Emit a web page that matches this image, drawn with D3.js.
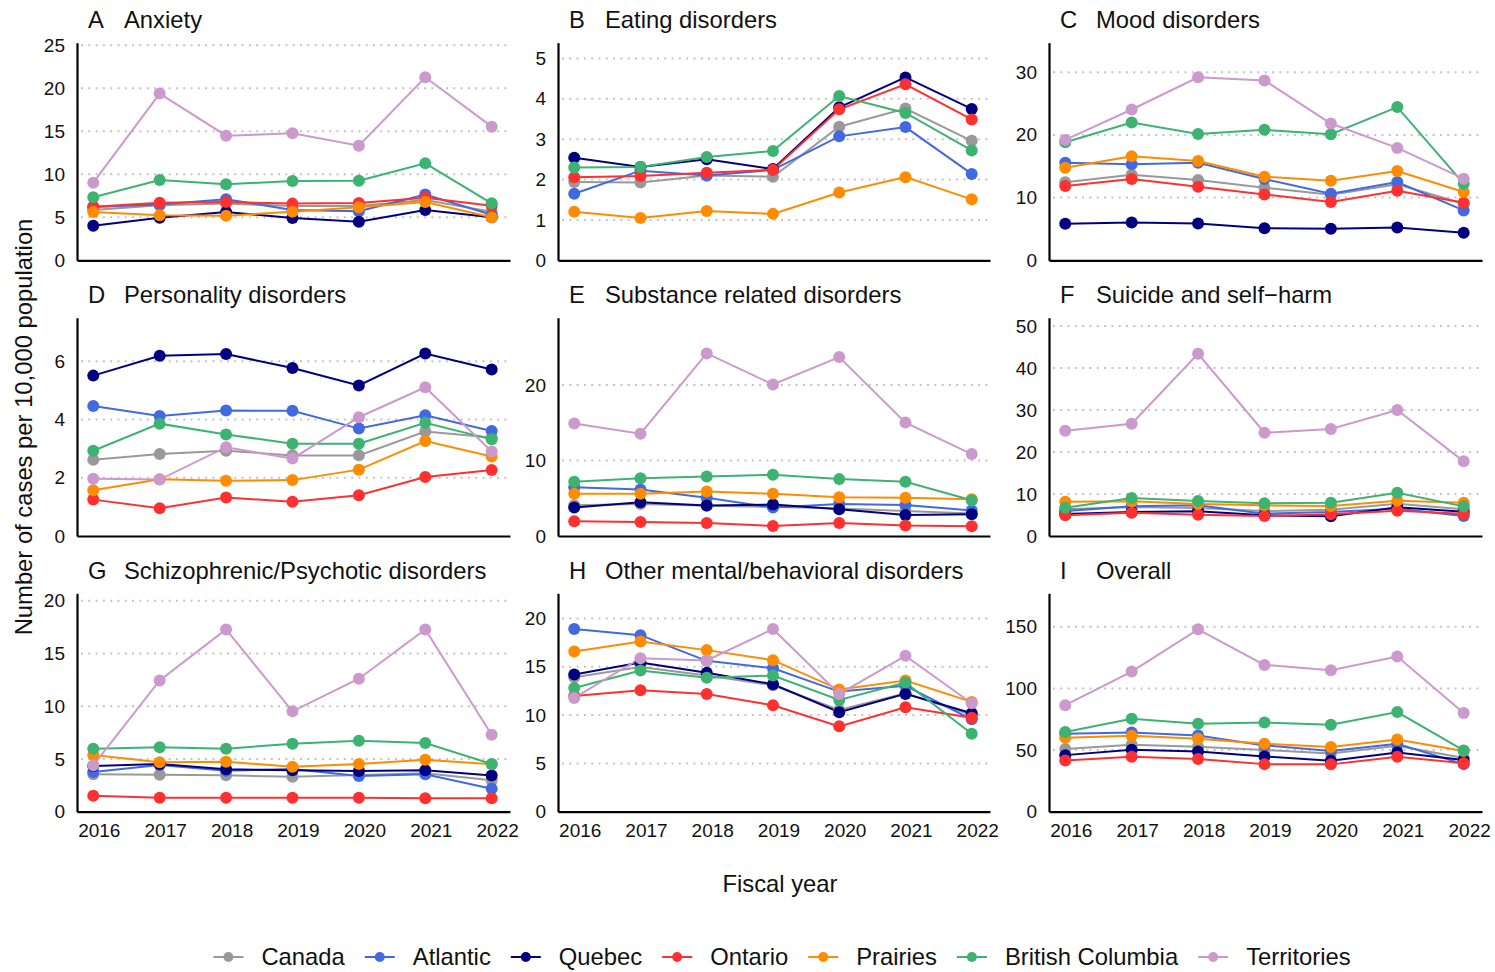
<!DOCTYPE html>
<html><head><meta charset="utf-8">
<script src="https://cdn.jsdelivr.net/npm/d3@7"></script>
<style>
body{margin:0;background:#fff}
text{font-family:"Liberation Sans",Arial,sans-serif;fill:#111}
</style>
</head><body>
<svg id="chart" width="1495" height="972"></svg>
<script>
// ---------------- DATA ----------------
const years = [2016, 2017, 2018, 2019, 2020, 2021, 2022];
const regions = ["Canada", "Atlantic", "Quebec", "Ontario", "Prairies", "British Columbia", "Territories"];
const panelLetters = ["A", "B", "C", "D", "E", "F", "G", "H", "I"];
const panelTitles = ["Anxiety", "Eating disorders", "Mood disorders", "Personality disorders",
  "Substance related disorders", "Suicide and self\u2212harm", "Schizophrenic/Psychotic disorders",
  "Other mental/behavioral disorders", "Overall"];
const yMax = [25.3, 5.39, 34.7, 7.5, 28.9, 52, 20.7, 22.6, 177.2];
const yTicks = [[0,5,10,15,20,25],[0,1,2,3,4,5],[0,10,20,30],[0,2,4,6],[0,10,20],
  [0,10,20,30,40,50],[0,5,10,15,20],[0,5,10,15,20],[0,50,100,150]];

// series in region order: Canada, Atlantic, Quebec, Ontario, Prairies, British Columbia, Territories
const anxiety = [
  [5.85, 6.4, 6.6, 6.3, 6.3, 7.0, 5.65],
  [6.2, 6.5, 7.1, 5.85, 5.7, 7.65, 5.3],
  [4.03, 4.96, 5.62, 4.92, 4.49, 5.85, 5.0],
  [6.23, 6.70, 6.78, 6.59, 6.66, 7.28, 6.35],
  [5.62, 5.23, 5.19, 5.65, 6.16, 6.78, 5.0],
  [7.32, 9.34, 8.83, 9.22, 9.26, 11.27, 6.62],
  [9.03, 19.38, 14.49, 14.76, 13.33, 21.28, 15.54]
];
const eating = [
  [1.94, 1.93, 2.10, 2.07, 3.31, 3.76, 2.96],
  [1.65, 2.22, 2.10, 2.24, 3.07, 3.30, 2.14],
  [2.54, 2.31, 2.50, 2.26, 3.79, 4.53, 3.75],
  [2.06, 2.09, 2.17, 2.24, 3.74, 4.36, 3.49],
  [1.20, 1.05, 1.22, 1.15, 1.68, 2.06, 1.51],
  [2.30, 2.31, 2.56, 2.71, 4.07, 3.65, 2.72],
  [null, null, null, null, null, null, null]
];
const mood = [
  [12.43, 13.66, 12.81, 11.58, 10.46, 12.11, 9.02],
  [15.57, 15.3, 15.57, 12.96, 10.62, 12.49, 7.95],
  [5.82, 6.03, 5.87, 5.12, 5.02, 5.23, 4.38],
  [11.85, 12.96, 11.73, 10.5, 9.28, 11.09, 9.18],
  [14.77, 16.59, 15.84, 13.33, 12.69, 14.24, 10.89],
  [18.83, 21.97, 20.15, 20.8, 20.1, 24.43, 12.22],
  [19.2, 24.05, 29.18, 28.69, 21.81, 17.92, 13.01]
];
const personality = [
  [2.62, 2.82, 2.93, 2.77, 2.77, 3.59, 3.38],
  [4.47, 4.12, 4.31, 4.30, 3.69, 4.15, 3.61],
  [5.51, 6.19, 6.25, 5.77, 5.17, 6.27, 5.72],
  [1.25, 0.95, 1.32, 1.18, 1.40, 2.03, 2.27],
  [1.57, 1.95, 1.90, 1.92, 2.28, 3.26, 2.73],
  [2.93, 3.86, 3.49, 3.17, 3.17, 3.89, 3.32],
  [1.97, 1.94, 3.05, 2.66, 4.08, 5.11, 2.90]
];
const substance = [
  [4.08, 4.25, 3.99, 3.86, 3.63, 3.32, 2.97],
  [6.47, 6.16, 5.05, 3.77, 4.25, 4.12, 3.37],
  [3.77, 4.47, 4.03, 4.17, 3.55, 2.79, 2.88],
  [1.95, 1.86, 1.73, 1.33, 1.73, 1.38, 1.29],
  [5.58, 5.58, 5.89, 5.58, 5.14, 5.05, 4.87],
  [7.17, 7.66, 7.88, 8.1, 7.53, 7.17, 4.74],
  [14.88, 13.55, 24.17, 20.06, 23.69, 15.01, 10.85]
];
const suicide = [
  [6.35, 6.9, 6.67, 5.95, 6.27, 7.7, 6.35],
  [5.95, 7.06, 7.3, 5.32, 5.71, 6.51, 4.76],
  [5.24, 5.71, 5.87, 4.92, 4.68, 6.83, 5.79],
  [4.92, 5.56, 5.08, 4.76, 5.16, 6.03, 5.32],
  [8.17, 8.25, 7.62, 7.3, 7.14, 8.41, 7.94],
  [6.75, 9.05, 8.33, 7.78, 7.94, 10.32, 7.06],
  [25.08, 26.75, 43.41, 24.6, 25.48, 30.0, 17.78]
];
const schizo = [
  [3.54, 3.51, 3.45, 3.32, 3.48, 3.64, 2.97],
  [3.76, 4.42, 3.89, 4.05, 3.38, 3.54, 2.18],
  [4.33, 4.52, 4.02, 3.92, 3.86, 3.92, 3.42],
  [1.52, 1.33, 1.33, 1.33, 1.33, 1.27, 1.27],
  [5.37, 4.68, 4.74, 4.27, 4.52, 4.93, 4.49],
  [5.97, 6.1, 5.97, 6.45, 6.73, 6.51, 4.52],
  [4.39, 12.44, 17.28, 9.51, 12.6, 17.28, 7.3]
];
const otherDisorders = [
  [13.92, 14.96, 14.09, 13.09, 10.53, 12.26, 10.04],
  [18.9, 18.27, 15.61, 14.85, 12.43, 13.02, 9.56],
  [14.2, 15.44, 14.37, 13.19, 10.29, 12.19, 10.18],
  [11.98, 12.57, 12.19, 11.01, 8.83, 10.81, 9.73],
  [16.58, 17.62, 16.72, 15.68, 12.64, 13.57, 11.36],
  [12.81, 14.61, 13.85, 14.09, 11.57, 13.36, 8.07],
  [11.77, 15.89, 15.65, 18.9, 12.19, 16.13, 11.22]
];
const overall = [
  [50.8, 54.3, 52.7, 50.0, 47.3, 53.5, 43.5],
  [63.2, 64.3, 61.9, 53.8, 49.2, 55.1, 38.6],
  [45.9, 50.2, 48.9, 44.8, 41.3, 48.1, 41.9],
  [41.6, 44.6, 42.7, 38.6, 38.4, 44.6, 39.4],
  [60.0, 61.6, 59.2, 55.1, 52.4, 58.6, 49.2],
  [64.6, 75.4, 71.3, 72.4, 70.5, 80.8, 49.7],
  [86.4, 113.7, 148.0, 119.1, 114.8, 125.9, 80.0]
];
const panelData = [anxiety, eating, mood, personality, substance, suicide, schizo, otherDisorders, overall];

// ---------------- STYLE / LAYOUT ----------------
const colors = ["#999999", "#4169E1", "#000080", "#FF3030", "#FF8C00", "#3CB371", "#CC99CC"];
const colLeft = [77, 558, 1049], colRight = [510, 990, 1482];
const rowTop = [42.7, 317.7, 593.3], rowBottom = [260.3, 536, 811.7];
const padL = 0.245, padR = 0.276;
const FS = 23.8;

const svg = d3.select("#chart");
svg.append("rect").attr("width", 1495).attr("height", 972).attr("fill", "#fff");

panelData.forEach((series, p) => {
  const c = p % 3, r = Math.floor(p / 3);
  const x = d3.scaleLinear().domain([years[0] - padL, years[years.length - 1] + padR]).range([colLeft[c], colRight[c]]);
  const y = d3.scaleLinear().domain([0, yMax[p]]).range([rowBottom[r], rowTop[r]]);
  const g = svg.append("g");

  // grid
  g.selectAll(".grid").data(yTicks[p].filter(t => t > 0)).join("line")
    .attr("x1", colLeft[c] + 4).attr("x2", colRight[c])
    .attr("y1", d => y(d)).attr("y2", d => y(d))
    .attr("stroke", "#c4c4c4").attr("stroke-width", 2).attr("stroke-dasharray", "2,5.3");

  // y axis
  const ya = g.append("g").attr("transform", `translate(${colLeft[c]},0)`)
    .call(d3.axisLeft(y).tickValues(yTicks[p]).tickSize(0).tickSizeOuter(0).tickPadding(12).tickFormat(d3.format("d")));
  ya.select(".domain").attr("stroke", "#000").attr("stroke-width", 2.2);
  ya.selectAll("text").attr("font-size", 19).attr("fill", "#111")
    .attr("font-family", '"Liberation Sans",Arial,sans-serif');

  // x axis
  const xa = g.append("g").attr("transform", `translate(0,${rowBottom[r]})`)
    .call(d3.axisBottom(x).tickValues(years).tickSize(0).tickSizeOuter(0).tickPadding(12).tickFormat(d3.format("d")));
  xa.select(".domain").attr("stroke", "#000").attr("stroke-width", 2.2);
  xa.selectAll("text").attr("font-size", 19).attr("fill", "#111").attr("dx", 5.5)
    .attr("font-family", '"Liberation Sans",Arial,sans-serif')
    .style("display", r === 2 ? null : "none");

  // title
  g.append("text").attr("x", colLeft[c] + 11).attr("y", rowTop[r] - 14.5)
    .attr("font-size", FS).text(panelLetters[p]);
  g.append("text").attr("x", colLeft[c] + 47).attr("y", rowTop[r] - 14.5)
    .attr("font-size", FS).text(panelTitles[p]);

  const line = d3.line().defined(d => d != null).x((d, i) => x(years[i])).y(d => y(d));
  series.forEach((s, k) => {
    g.append("path").datum(s).attr("d", line).attr("fill", "none")
      .attr("stroke", colors[k]).attr("stroke-width", 2);
  });
  series.forEach((s, k) => {
    g.selectAll(null).data(s.map((v, i) => ({v, i})).filter(d => d.v != null)).join("circle")
      .attr("cx", d => x(years[d.i])).attr("cy", d => y(d.v)).attr("r", 6)
      .attr("fill", colors[k]);
  });
});

// axis titles
svg.append("text").attr("transform", "translate(32,427) rotate(-90)")
  .attr("text-anchor", "middle").attr("font-size", FS).text("Number of cases per 10,000 population");
svg.append("text").attr("x", 780).attr("y", 892).attr("text-anchor", "middle")
  .attr("font-size", FS).text("Fiscal year");

// legend
const leg = svg.append("g");
let lx = 0;
regions.forEach((name, k) => {
  const it = leg.append("g").attr("transform", `translate(${lx},0)`);
  it.append("line").attr("x1", 0).attr("x2", 30).attr("y1", 957).attr("y2", 957)
    .attr("stroke", colors[k]).attr("stroke-width", 2);
  it.append("circle").attr("cx", 15).attr("cy", 957).attr("r", 5).attr("fill", colors[k]);
  const t = it.append("text").attr("x", 48).attr("y", 965).attr("font-size", FS).text(name);
  lx += 48 + t.node().getComputedTextLength() + 20;
});
const total = lx - 20;
leg.attr("transform", `translate(${782 - total / 2},0)`);
</script>
</body></html>
